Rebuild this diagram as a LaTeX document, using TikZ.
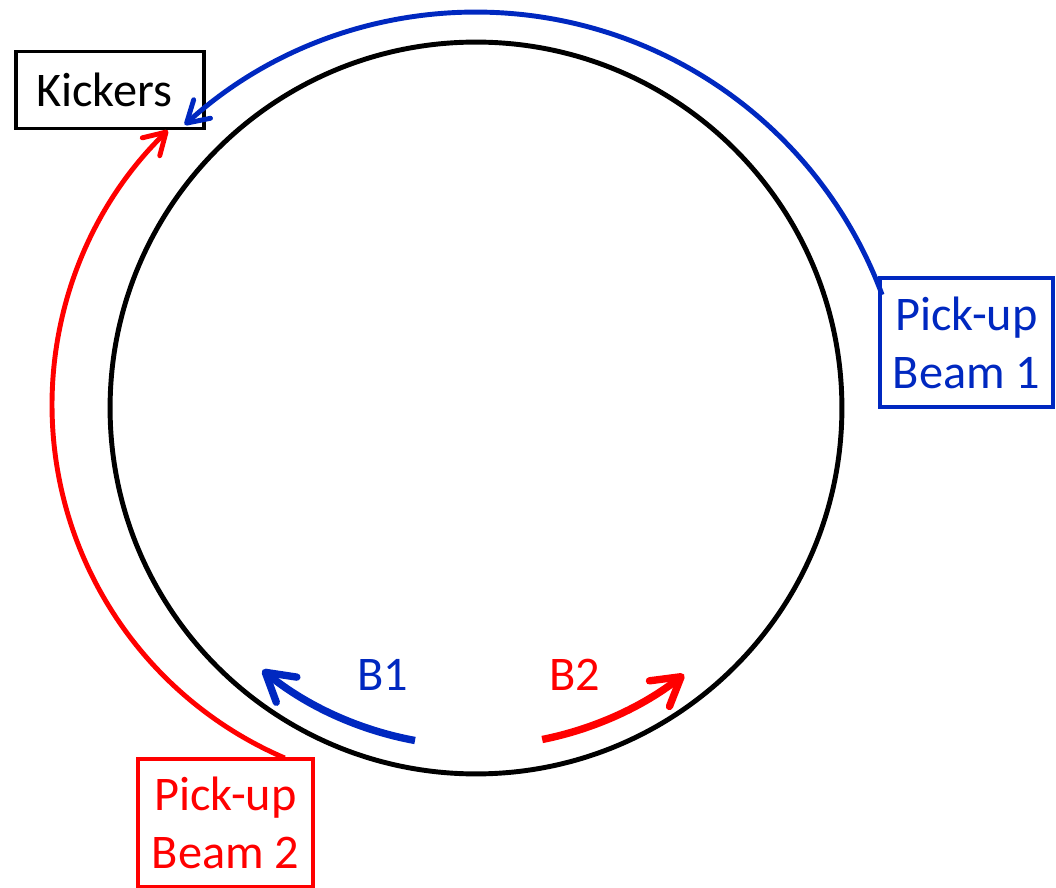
\documentclass[tikz,border=0pt]{standalone}
\usepackage{fontspec}
\setmainfont{Carlito}
\usetikzlibrary{arrows.meta}
\definecolor{bblue}{RGB}{0,40,192}
\definecolor{bred}{RGB}{255,0,0}
\begin{document}
\begin{tikzpicture}[x=0.02cm,y=0.02cm,
  lbl/.style={font=\fontsize{27.5}{33}\selectfont},
  box/.style={draw, line width=2pt, inner sep=0pt, align=center, lbl},
  thinarc/.style={line width=2.8pt, -{Straight Barb[length=0.42cm,width=0.5cm,line cap=round,line join=round]}},
  thickarc/.style={line width=4.2pt, -{Straight Barb[length=0.55cm,width=0.65cm,line cap=round,line join=round]}}]
\useasboundingbox (0,0) rectangle (1056,887);
% ring
\node[draw, circle, line width=2.8pt, minimum size=14.64cm, inner sep=0pt] (ring) at (476,479) {};
% boxes
\node[box, minimum width=3.76cm, minimum height=1.54cm] (kick) at (110,797) {Kickers\hspace*{0.24cm}};
\node[box, draw=bblue, text=bblue, minimum width=3.46cm, minimum height=2.58cm] (pu1) at (966.5,544.5) {Pick-up\\Beam 1};
\node[box, draw=bred, text=bred, minimum width=3.5cm, minimum height=2.56cm] (pu2) at (225.5,64) {Pick-up\\Beam 2};
% connector end points
\coordinate (b1s) at (882.1,592.2);
\coordinate (b2s) at (284.7,129);
% feedback arcs
\draw[thinarc, bblue] (b1s) arc[start angle=20.3, end angle=132.3, radius=8.66cm];
\draw[thinarc, bred] (b2s) arc[start angle=246.8, end angle=134.3, radius=7.68cm];
% beam direction arrows
\coordinate (d1) at (415,146.5);
\coordinate (d2) at (542.2,147.5);
\draw[thickarc, bblue] (d1) arc[start angle=259.6, end angle=230.8, radius=6.76cm];
\draw[thickarc, bred] (d2) arc[start angle=281.3, end angle=308.0, radius=6.76cm];
\node[lbl, text=bblue] (lb1) at (383,212) {B1};
\node[lbl, text=bred] (lb2) at (575,212) {B2};
\end{tikzpicture}
\end{document}
